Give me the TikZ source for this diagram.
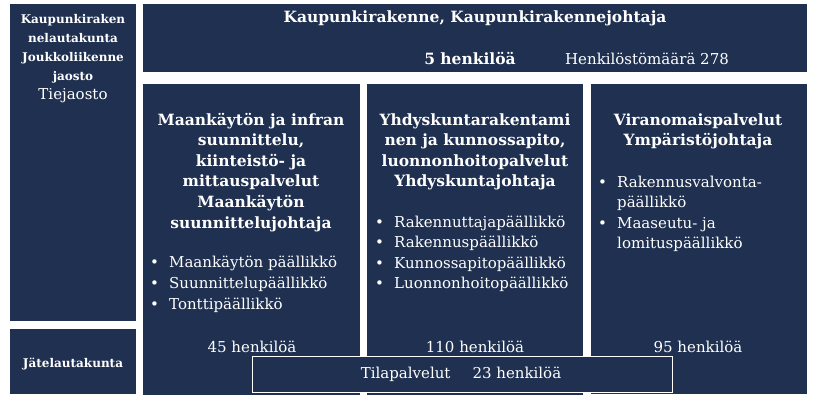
\documentclass[tikz,border=0pt]{standalone}
\usepackage{fontspec}
\setmainfont{DejaVu Serif}
\usepackage{tikz}
\usetikzlibrary{positioning}
\definecolor{OrgNavy}{HTML}{1F3050}
\newcommand{\itm}[1]{\makebox[19pt][l]{\textbullet}#1}
\tikzset{
  % Box styles
  panel/.style={rectangle, fill=OrgNavy, draw=none, inner sep=0pt, anchor=north west},
  framedpanel/.style={panel, draw=white, line width=0.8pt},
  % Text styles (base anchor = baseline of the last line)
  headtext/.style={text=white, inner sep=0pt, align=center, font=\bfseries\fontsize{15.5}{20.6}\selectfont},
  bodytext/.style={text=white, inner sep=0pt, align=left, font=\fontsize{15}{20.6}\selectfont},
  counttext/.style={text=white, inner sep=0pt, font=\fontsize{15}{20.6}\selectfont},
  smalltext/.style={text=white, inner sep=0pt, align=center, font=\bfseries\fontsize{12}{19}\selectfont}
}
\begin{document}
\begin{tikzpicture}[x=1pt, y=-1pt]
  \useasboundingbox (0,0) rectangle (819,401);
  % Boards
  \node[panel, minimum width=126pt, minimum height=317pt] (board) at (10,4) {};
  \node[panel, minimum width=126pt, minimum height=65pt] (waste) at (10,329) {};
  \node[smalltext, anchor=base] (boardtxt) at (73,80.5) {Kaupunkiraken\\nelautakunta\\Joukkoliikenne\\jaosto};
  \node[counttext, anchor=base] (roadtxt) at (73,100) {Tiejaosto};
  \node[smalltext, anchor=base] (wastetxt) at (73,367) {Jätelautakunta};

  % Division head
  \node[panel, minimum width=664pt, minimum height=68pt] (division) at (143,4) {};
  \node[headtext, anchor=base] (divtitle) at (475,23) {Kaupunkirakenne, Kaupunkirakennejohtaja};
  \node[headtext, anchor=base] (divstaff) at (470,65) {5 henkilöä};
  \node[counttext, anchor=base] (divtotal) at (647,65) {Henkilöstömäärä 278};

  % Units
  \node[panel, minimum width=217pt, minimum height=311pt] (land) at (143,84) {};
  \node[panel, minimum width=216pt, minimum height=311pt] (infra) at (367,84) {};
  \node[panel, minimum width=216pt, minimum height=310pt] (permit) at (591,84) {};

  \node[headtext, anchor=base] (landtitle) at (251,228) {Maankäytön ja infran\\suunnittelu,\\kiinteistö- ja\\mittauspalvelut\\Maankäytön\\suunnittelujohtaja};
  \node[bodytext, anchor=base west] (landlist) at (150,309) {\itm{Maankäytön päällikkö}\\\itm{Suunnittelupäällikkö}\\\itm{Tonttipäällikkö}};
  \node[counttext, anchor=base] (landstaff) at (252,352) {45 henkilöä};

  \node[headtext, anchor=base] (infratitle) at (475,186.8) {Yhdyskuntarakentami\\nen ja kunnossapito,\\luonnonhoitopalvelut\\Yhdyskuntajohtaja};
  \node[bodytext, anchor=base west] (infralist) at (375,288.8) {\itm{Rakennuttajapäällikkö}\\\itm{Rakennuspäällikkö}\\\itm{Kunnossapitopäällikkö}\\\itm{Luonnonhoitopäällikkö}};
  \node[counttext, anchor=base] (infrastaff) at (475,352) {110 henkilöä};

  \node[headtext, anchor=base] (permittitle) at (698,145.6) {Viranomaispalvelut\\Ympäristöjohtaja};
  \node[bodytext, anchor=base west] (permitlist) at (598,248.8) {\itm{Rakennusvalvonta-}\\\hspace*{19pt}päällikkö\\\itm{Maaseutu- ja}\\\hspace*{19pt}lomituspäällikkö};
  \node[counttext, anchor=base] (permitstaff) at (698,352) {95 henkilöä};

  % Facility services
  \node[framedpanel, minimum width=420pt, minimum height=36pt] (facility) at (252,356) {};
  \node[counttext, anchor=base] (facilitytxt) at (461,378) {Tilapalvelut\hspace{22pt}23 henkilöä};
\end{tikzpicture}
\end{document}
